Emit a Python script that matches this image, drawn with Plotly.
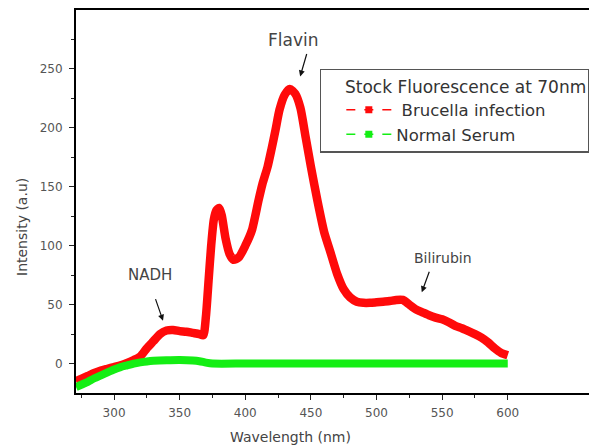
import plotly.graph_objects as go

# Wavelength (nm) and intensity (a.u.)
brucella_x = [271, 275, 280, 285, 290, 295, 300, 305, 310, 315, 320, 325, 330, 335, 340,
              345, 350, 355, 360, 365, 368, 370, 372, 374, 376, 378, 380, 382, 385, 388,
              391, 395, 400, 405, 410, 413, 417, 420, 423, 426, 430, 434, 438, 442, 446,
              450, 455, 460, 465, 470, 475, 480, 485, 490, 495, 500, 505, 510, 515, 520,
              525, 530, 535, 540, 545, 550, 555, 560, 565, 570, 575, 580, 585, 590, 595, 600]
brucella_y = [-15, -13, -10.5, -8, -6, -4.5, -3, -1.5, 0.5, 3, 6, 13, 19, 25, 28,
              28.5, 27.5, 27, 26, 25, 24, 40, 70, 100, 122, 130, 132, 126, 106, 93,
              88, 90, 100, 113, 138, 152, 167, 182, 198, 215, 228, 233, 229, 217, 192,
              167, 138, 112, 94, 76, 63, 56, 52.5, 51.5, 51.5, 52, 52.5, 53, 54, 54,
              50, 46, 43.5, 41, 39, 37.5, 35, 32, 30, 27.5, 25, 22, 18, 13, 9, 7]

normal_x = [271, 275, 280, 285, 290, 295, 300, 305, 310, 315, 320, 325, 330, 340, 350,
            360, 365, 370, 375, 400, 450, 500, 550, 600]
normal_y = [-20, -18, -15.5, -12.5, -10, -7.5, -5, -3, -1.5, 0, 1, 1.8, 2.3, 2.8, 3,
            2.6, 2, 0.8, 0, 0, 0, 0, 0, 0]

x_ticks = [300, 350, 400, 450, 500, 550, 600]
x_minor = [275, 325, 375, 425, 475, 525, 575]
y_ticks = [0, 50, 100, 150, 200, 250]
y_minor = [25, 75, 125, 175, 225, 275]

RED = "#ff0a0a"
GREEN = "#14ee14"
FONT = "DejaVu Sans"
TXT = "#444444"

fig = go.Figure()
fig.add_trace(go.Scatter(x=brucella_x, y=brucella_y, mode="lines",
                         line=dict(color=RED, width=8.5, shape="spline", smoothing=0.6),
                         showlegend=False))
fig.add_trace(go.Scatter(x=normal_x, y=normal_y, mode="lines",
                         line=dict(color=GREEN, width=8, shape="spline", smoothing=0.6),
                         showlegend=False))
# legend entries (dashed line with square marker)
fig.add_trace(go.Scatter(x=[None], y=[None], mode="lines+markers", name=" Brucella infection",
                         line=dict(color=RED, width=1.5, dash="dash"),
                         marker=dict(symbol="square", size=7, color=RED)))
fig.add_trace(go.Scatter(x=[None], y=[None], mode="lines+markers", name="Normal Serum",
                         line=dict(color=GREEN, width=1.5, dash="dash"),
                         marker=dict(symbol="square", size=7, color=GREEN)))

# page body adds an 8px offset, so the figure is 8px smaller and margins compensate
fig.update_layout(
    width=589, height=437,
    margin=dict(l=68, r=0, t=2, b=52),
    paper_bgcolor="white", plot_bgcolor="white",
    font=dict(family=FONT, color=TXT),
    legend=dict(
        x=0.468, y=0.846, xanchor="left", yanchor="top",
        bgcolor="white", bordercolor="#555555", borderwidth=1.5,
        font=dict(size=16.5, color="#333333", family=FONT),
        title=dict(text="&nbsp;&nbsp;&nbsp;&nbsp;Stock Fluorescence at 70nm", side="top",
                   font=dict(size=17, color="#333333", family=FONT)),
        indentation=20, itemwidth=45, tracegroupgap=0,
    ),
    xaxis=dict(
        range=[271, 668], showgrid=False, zeroline=False,
        showline=True, linecolor="black", linewidth=1.5, mirror=True,
        tickmode="array", tickvals=x_ticks, ticks="outside", ticklen=5,
        tickcolor="#222222", tickwidth=1.2,
        tickfont=dict(size=12, color="#555555", family=FONT), ticklabelstandoff=3,
        minor=dict(tickmode="array", tickvals=x_minor, ticks="outside", ticklen=3,
                   tickcolor="#222222", showgrid=False),
    ),
    yaxis=dict(
        range=[-25, 300], showgrid=False, zeroline=False,
        showline=True, linecolor="black", linewidth=2, mirror=False,
        tickmode="array", tickvals=y_ticks, ticks="outside", ticklen=5,
        tickcolor="#222222", tickwidth=1.2,
        tickfont=dict(size=12, color="#555555", family=FONT), ticklabelstandoff=4,
        minor=dict(tickmode="array", tickvals=y_minor, ticks="outside", ticklen=3,
                   tickcolor="#222222", showgrid=False),
    ),
    annotations=[
        dict(text="Wavelength (nm)", xref="paper", yref="paper",
             x=(290 - 76) / 521, y=(393 - 437) / 383, xanchor="center", yanchor="middle",
             showarrow=False, font=dict(size=14, color=TXT, family=FONT)),
        dict(text="Intensity (a.u)", xref="paper", yref="paper", textangle=-90,
             x=(22 - 76) / 521, y=(393 - 227) / 383, xanchor="center", yanchor="middle",
             showarrow=False, font=dict(size=14, color=TXT, family=FONT)),
        dict(text="Flavin", x=436, y=274.5, showarrow=False,
             font=dict(size=17, color=TXT, family=FONT)),
        dict(text="", x=441.8, y=243.6, ax=7, ay=-24, showarrow=True,
             arrowhead=2, arrowsize=1, arrowwidth=1.2, arrowcolor="#111111"),
        dict(text="NADH", x=327.4, y=74.8, showarrow=False,
             font=dict(size=15, color=TXT, family=FONT)),
        dict(text="", x=337.3, y=36.4, ax=-8, ay=-23, showarrow=True,
             arrowhead=2, arrowsize=1, arrowwidth=1.2, arrowcolor="#111111"),
        dict(text="Bilirubin", x=550.8, y=89.3, showarrow=False,
             font=dict(size=14, color=TXT, family=FONT)),
        dict(text="", x=534.5, y=60.5, ax=8, ay=-22, showarrow=True,
             arrowhead=2, arrowsize=1, arrowwidth=1.2, arrowcolor="#111111"),
    ],
)

fig.write_html("out.html")
